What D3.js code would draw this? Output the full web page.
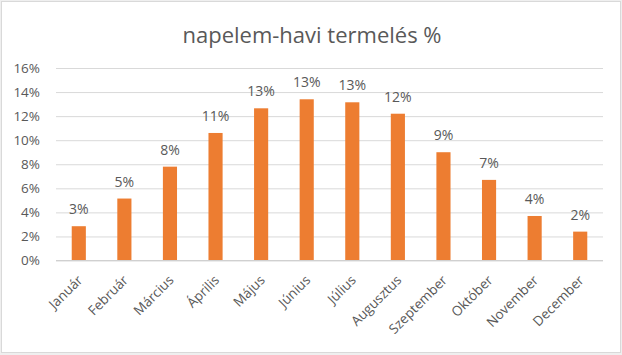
<!DOCTYPE html>
<html>
<head>
<meta charset="utf-8">
<script src="https://cdn.jsdelivr.net/npm/d3@7"></script>
<style>
  html, body { margin: 0; padding: 0; background: #efefef; }
  svg { display: block; }
  text { font-family: "Open Sans", "Noto Sans", sans-serif; fill: #595959; }
</style>
</head>
<body>
<svg id="chart" width="622" height="355"></svg>
<script>
const title = "napelem-havi termelés %";
const months = ["Január", "Február", "Március", "Április", "Május", "Június",
                "Július", "Augusztus", "Szeptember", "Október", "November", "December"];
const values = [2.85, 5.15, 7.8, 10.6, 12.65, 13.4, 13.15, 12.2, 9.0, 6.7, 3.7, 2.4];
const dataLabels = ["3%", "5%", "8%", "11%", "13%", "13%", "13%", "12%", "9%", "7%", "4%", "2%"];
const yTicks = [0, 2, 4, 6, 8, 10, 12, 14, 16];

const svg = d3.select("#chart");
const W = 622, H = 355;
const margin = { left: 56, right: 19, top: 68, bottom: 94 };

svg.append("rect")
  .attr("x", 1.5).attr("y", 1.5)
  .attr("width", 619).attr("height", 351)
  .attr("fill", "#ffffff")
  .attr("stroke", "#d9d9d9");

svg.append("text")
  .attr("x", W / 2 + 1).attr("y", 43)
  .attr("text-anchor", "middle")
  .attr("font-size", 22)
  .text(title);

const x = d3.scaleBand()
  .domain(months)
  .range([margin.left, W - margin.right])
  .paddingInner(0.69)
  .paddingOuter(0.345);

const y = d3.scaleLinear()
  .domain([0, 16])
  .range([260.5, 68]);

// gridlines
const yAxis = d3.axisLeft(y)
  .tickValues(yTicks)
  .tickSize(-(W - margin.right - margin.left))
  .tickPadding(16)
  .tickFormat(d => d + "%");

const gy = svg.append("g")
  .attr("transform", `translate(${margin.left},0)`)
  .call(yAxis);
gy.select(".domain").remove();
gy.selectAll(".tick line").attr("stroke", "#d9d9d9").attr("stroke-width", 1);
gy.selectAll(".tick text")
  .attr("font-size", 13.5)
  .attr("fill", "#595959")
  .attr("font-family", "'Open Sans', sans-serif");

// bars
svg.append("g").selectAll("rect")
  .data(values)
  .join("rect")
  .attr("x", (d, i) => x(months[i]))
  .attr("y", d => y(d))
  .attr("width", x.bandwidth())
  .attr("height", d => y(0) - y(d))
  .attr("fill", "#ed7d31");

// baseline
svg.append("line")
  .attr("x1", margin.left).attr("x2", W - margin.right)
  .attr("y1", y(0)).attr("y2", y(0))
  .attr("stroke", "#d0d0d0");

// data labels
svg.append("g").selectAll("text")
  .data(values)
  .join("text")
  .attr("x", (d, i) => x(months[i]) + x.bandwidth() / 2)
  .attr("y", d => y(d) - 12)
  .attr("text-anchor", "middle")
  .attr("font-size", 14)
  .text((d, i) => dataLabels[i]);

// x axis labels
const xAxis = d3.axisBottom(x).tickSize(0).tickPadding(0);
const gx = svg.append("g")
  .attr("transform", `translate(0,${y(0)})`)
  .call(xAxis);
gx.select(".domain").remove();
gx.selectAll(".tick text")
  .attr("font-size", 13.5)
  .attr("fill", "#595959")
  .attr("font-family", "'Open Sans', sans-serif")
  .attr("text-anchor", "end")
  .attr("dy", null)
  .attr("transform", "translate(2,18) rotate(-45)")
  .attr("y", 0).attr("x", 0)
  .attr("dominant-baseline", "middle");
</script>
</body>
</html>
